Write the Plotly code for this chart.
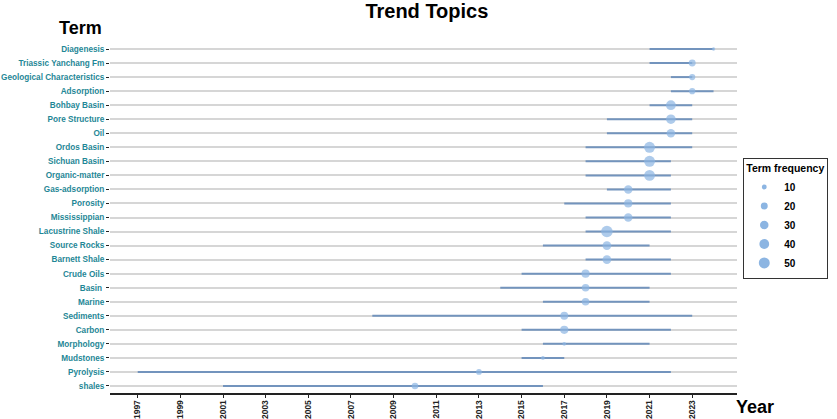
import plotly.graph_objects as go
import math

terms = ["Diagenesis", "Triassic Yanchang Fm", "Geological Characteristics", "Adsorption",
         "Bohbay Basin", "Pore Structure", "Oil", "Ordos Basin", "Sichuan Basin",
         "Organic-matter", "Gas-adsorption", "Porosity", "Mississippian", "Lacustrine Shale",
         "Source Rocks", "Barnett Shale", "Crude Oils", "Basin ", "Marine", "Sediments",
         "Carbon", "Morphology", "Mudstones", "Pyrolysis", "shales"]
year_start = [2021, 2021, 2022, 2022, 2021, 2019, 2019, 2018, 2018, 2018, 2019, 2017, 2018,
              2018, 2016, 2018, 2015, 2014, 2016, 2008, 2015, 2016, 2015, 1997, 2001]
year_peak = [2024, 2023, 2023, 2023, 2022, 2022, 2022, 2021, 2021, 2021, 2020, 2020, 2020,
             2019, 2019, 2019, 2018, 2018, 2018, 2017, 2017, 2017, 2016, 2013, 2010]
year_end = [2024, 2023, 2023, 2024, 2023, 2023, 2023, 2023, 2022, 2022, 2022, 2022, 2022,
            2022, 2021, 2022, 2022, 2021, 2021, 2023, 2022, 2021, 2017, 2022, 2016]
freq = [5, 20, 16, 16, 40, 38, 30, 50, 50, 48, 30, 28, 30,
        55, 32, 32, 28, 24, 24, 26, 28, 6, 6, 14, 18]
legend_freq = [10, 20, 30, 40, 50]
year_ticks = list(range(1997, 2024, 2))

def diam(f):
    return 1.55 * math.sqrt(f)

line_x, line_y = [], []
for t, s, e in zip(terms, year_start, year_end):
    line_x += [s, e, None]
    line_y += [t, t, None]

fig = go.Figure()
fig.add_trace(go.Scatter(x=line_x, y=line_y, mode="lines",
                         line=dict(color="#7394bd", width=2), showlegend=False, hoverinfo="skip"))
fig.add_trace(go.Scatter(x=year_peak, y=terms, mode="markers",
                         marker=dict(color="#8cb5e2", size=[diam(f) for f in freq], line=dict(width=0)),
                         showlegend=False))
for f in legend_freq:
    fig.add_trace(go.Scatter(x=[None], y=[None], mode="markers", name=str(f),
                             marker=dict(color="#8cb5e2", size=diam(f), line=dict(width=0))))

fig.update_layout(
    width=837, height=419,
    margin=dict(l=110, r=100, t=42, b=26, autoexpand=False),
    paper_bgcolor="white", plot_bgcolor="white",
    font=dict(family="Liberation Sans, Arial", color="black"),
    title=dict(text="<b>Trend Topics</b>", x=0.51, xanchor="center", xref="container",
               y=0.99, yanchor="top", font=dict(size=20, color="black")),
    showlegend=True,
    legend=dict(x=1.01, y=0.67, xanchor="left", yanchor="top",
                bordercolor="#333333", borderwidth=1,
                title=dict(text="<b>Term frequency</b>", font=dict(size=10.5)),
                font=dict(size=10, color="black", weight="bold"),
                itemsizing="trace", tracegroupgap=0),
    xaxis=dict(range=[1995.7, 2025.1], tickvals=year_ticks, ticktext=[str(y) for y in year_ticks],
               tickangle=-90, tickfont=dict(size=8.5, color="#222222", weight="bold"),
               ticklabelstandoff=-1,
               showgrid=False, zeroline=False, showline=True, linecolor="#222222", linewidth=1.5,
               ticks="outside", ticklen=3, tickcolor="#222222", tickwidth=1, automargin=False),
    yaxis=dict(categoryorder="array", categoryarray=terms[::-1], range=[-0.5, 24.5],
               tickfont=dict(size=8.2, color="#1f8796", weight="bold"),
               showgrid=True, gridcolor="#d6d6d6", gridwidth=1.6,
               showline=False, zeroline=False, automargin=False,
               ticks="outside", ticklen=3, tickcolor="#222222", tickwidth=1.2),
)
fig.add_annotation(text="<b>Term</b>", xref="paper", yref="paper", x=-0.01, y=1.005,
                   xanchor="right", yanchor="bottom", showarrow=False,
                   font=dict(size=18, color="black"))
fig.add_annotation(text="<b>Year</b>", xref="paper", yref="paper", x=0.995, y=-0.005,
                   xanchor="left", yanchor="top", showarrow=False,
                   font=dict(size=18, color="black"))
fig.write_html("out.html", config={"displayModeBar": False},
               post_script="document.body.style.margin='0px';document.body.style.overflow='hidden';")
